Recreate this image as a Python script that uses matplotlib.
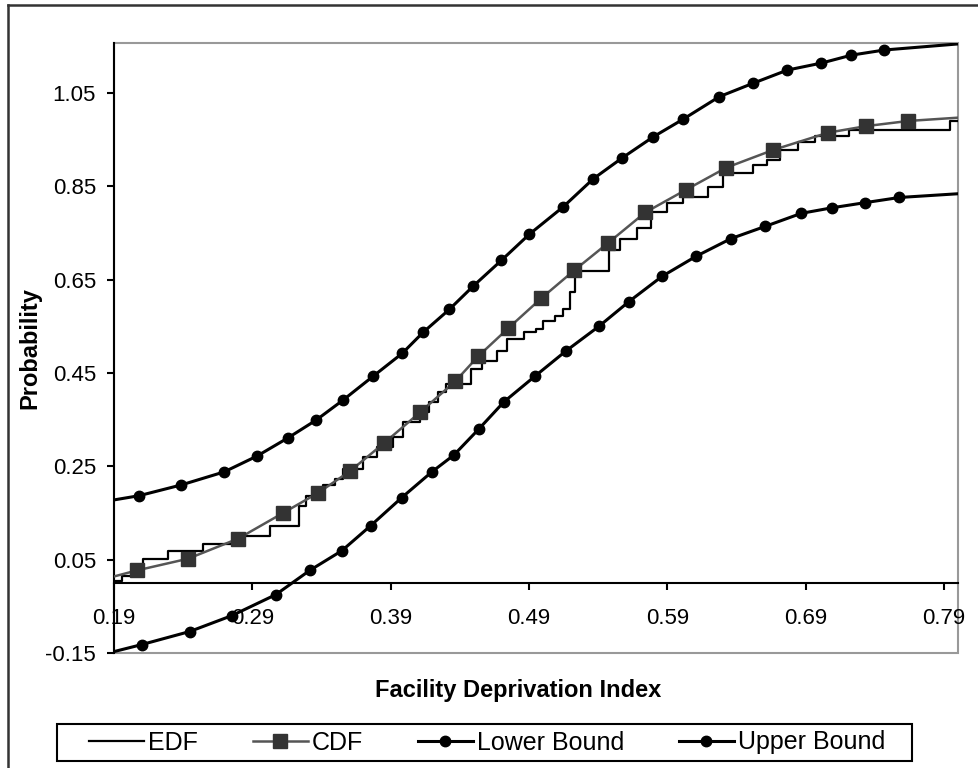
import matplotlib.pyplot as plt
from matplotlib.patches import Rectangle
from matplotlib.lines import Line2D

plt.rcParams['font.family'] = ['Liberation Sans', 'DejaVu Sans']

# EDF step positions and levels
edf_x = [0.190, 0.196, 0.211, 0.229, 0.254, 0.282, 0.3025, 0.324, 0.329, 0.341,
         0.350, 0.3556, 0.370, 0.380, 0.392, 0.399, 0.411, 0.418, 0.424, 0.430,
         0.448, 0.456, 0.467, 0.474, 0.486, 0.495, 0.500, 0.509, 0.5145, 0.5195,
         0.523, 0.527, 0.548, 0.556, 0.568, 0.578, 0.590, 0.601, 0.619, 0.630,
         0.652, 0.662, 0.671, 0.684, 0.697, 0.721, 0.794, 0.800]
edf_y = [0.005, 0.016, 0.052, 0.069, 0.084, 0.101, 0.123, 0.166, 0.187, 0.209,
         0.223, 0.244, 0.270, 0.291, 0.313, 0.345, 0.366, 0.388, 0.409, 0.426,
         0.458, 0.476, 0.497, 0.522, 0.537, 0.544, 0.561, 0.572, 0.586, 0.623,
         0.658, 0.669, 0.714, 0.736, 0.761, 0.794, 0.815, 0.828, 0.849, 0.879,
         0.896, 0.906, 0.928, 0.945, 0.958, 0.971, 0.990, 0.990]

# fitted CDF (first and last points are the clipped line ends)
cdf_x = [0.190, 0.2066, 0.2435, 0.2797, 0.3122, 0.3375, 0.3607, 0.3853, 0.4113,
         0.4366, 0.4533, 0.4750, 0.4988, 0.5227, 0.5473, 0.5740, 0.6037, 0.6326,
         0.6666, 0.7063, 0.7338, 0.7642, 0.800]
cdf_y = [0.014, 0.027, 0.052, 0.095, 0.150, 0.193, 0.240, 0.300, 0.366,
         0.432, 0.486, 0.546, 0.610, 0.670, 0.729, 0.794, 0.843, 0.890,
         0.928, 0.965, 0.979, 0.990, 0.997]

lower_x = [0.190, 0.2100, 0.2447, 0.2751, 0.3069, 0.3315, 0.3546, 0.3756, 0.3980,
           0.4197, 0.4356, 0.4537, 0.4718, 0.4942, 0.5166, 0.5405, 0.5622, 0.5861,
           0.6107, 0.6360, 0.6606, 0.6867, 0.7091, 0.7330, 0.7576, 0.800]
lower_y = [-0.147, -0.132, -0.104, -0.070, -0.025, 0.027, 0.069, 0.123, 0.183,
           0.238, 0.274, 0.330, 0.388, 0.443, 0.497, 0.550, 0.603, 0.657,
           0.700, 0.738, 0.764, 0.792, 0.804, 0.815, 0.826, 0.834]

upper_x = [0.190, 0.2081, 0.2385, 0.2696, 0.2934, 0.3158, 0.3361, 0.3556, 0.3773,
           0.3983, 0.4134, 0.4323, 0.4496, 0.4699, 0.4901, 0.5147, 0.5364, 0.5574,
           0.5798, 0.6015, 0.6275, 0.6521, 0.6767, 0.7013, 0.7230, 0.7468, 0.800]
upper_y = [0.178, 0.187, 0.210, 0.238, 0.272, 0.311, 0.349, 0.392, 0.443,
           0.492, 0.537, 0.586, 0.636, 0.691, 0.747, 0.806, 0.866, 0.911,
           0.956, 0.994, 1.042, 1.071, 1.099, 1.114, 1.131, 1.142, 1.155]

x_ticks = [0.19, 0.29, 0.39, 0.49, 0.59, 0.69, 0.79]
y_ticks = [-0.15, 0.05, 0.25, 0.45, 0.65, 0.85, 1.05]

fig = plt.figure(figsize=(9.79, 7.68), dpi=100)
ax = fig.add_axes([114 / 979, 1 - 653 / 768, 844 / 979, 610 / 768])

ax.step(edf_x, edf_y, where='post', color='black', lw=1.6, label='EDF', zorder=2)
ax.plot(cdf_x, cdf_y, color='#555555', lw=1.8, marker='s', ms=10,
        mfc='#333333', mec='#333333', markevery=slice(1, -1), label='CDF', zorder=3)
ax.plot(lower_x, lower_y, color='black', lw=2.2, marker='o', ms=7.5,
        markevery=slice(1, -1), label='Lower Bound', zorder=4)
ax.plot(upper_x, upper_y, color='black', lw=2.2, marker='o', ms=7.5,
        markevery=slice(1, -1), label='Upper Bound', zorder=4)

ax.set_xlim(0.19, 0.80)
ax.set_ylim(-0.15, 1.157)
ax.set_xticks(x_ticks)
ax.set_xticklabels(['%.2f' % v for v in x_ticks])
ax.set_yticks(y_ticks)
ax.set_yticklabels(['%.2f' % v for v in y_ticks])

for s in ['top', 'right']:
    ax.spines[s].set_visible(False)
ax.spines['left'].set_linewidth(1.5)
ax.spines['bottom'].set_position(('data', 0))
ax.spines['bottom'].set_linewidth(1.5)
ax.add_patch(Rectangle((0, 0), 1, 1, transform=ax.transAxes, fill=False,
                       ec='#999999', lw=1.5, clip_on=False, zorder=0))

ax.tick_params(axis='x', direction='out', length=5, width=1.5, pad=13, labelsize=16)
ax.tick_params(axis='y', direction='out', length=5, width=1.5, pad=8, labelsize=16)

fig.text(30 / 979, 1 - 348 / 768, 'Probability', rotation=90, fontsize=17,
         fontweight='bold', ha='center', va='center')
fig.text(518 / 979, 1 - 690 / 768, 'Facility Deprivation Index', fontsize=17,
         fontweight='bold', ha='center', va='center')

# legend entries without frame, box drawn separately
leg = fig.legend(loc='center', ncol=4, bbox_to_anchor=(487 / 979, 1 - 742.5 / 768),
                 fontsize=18, frameon=False, handlelength=2.2,
                 handletextpad=0.15, columnspacing=2.2, borderpad=0, borderaxespad=0)
fig.add_artist(Rectangle((57 / 979, 1 - 761 / 768), 855 / 979, 37 / 768,
                         transform=fig.transFigure, fill=False, ec='black', lw=1.5))

# outer chart border
fig.add_artist(Line2D([8 / 979, 8 / 979], [0, 1 - 5 / 768], color='#333333', lw=1.8))
fig.add_artist(Line2D([8 / 979, 1], [1 - 5 / 768, 1 - 5 / 768], color='#333333', lw=1.8))

fig.savefig('out.png', dpi=100)
